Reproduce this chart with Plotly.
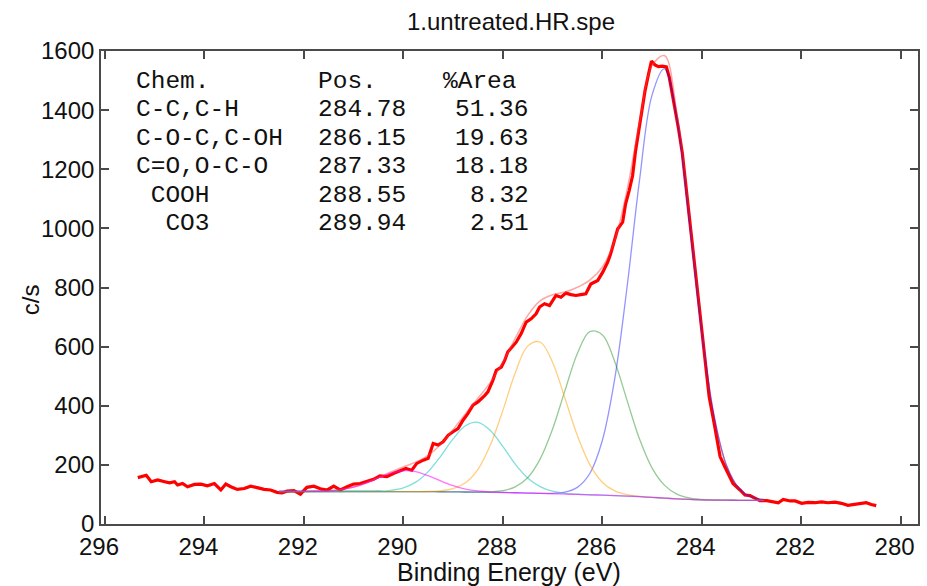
import plotly.graph_objects as go

# ---------------- data ----------------
title_text = "1.untreated.HR.spe"

# measured spectrum (binding energy eV, counts/s)
exp_energy = [295.34, 295.17, 295.07, 294.94, 294.80, 294.70, 294.60, 294.54, 294.44, 294.34,
              294.20, 294.07, 293.94, 293.80, 293.67, 293.57, 293.47, 293.34, 293.20, 293.07,
              292.94, 292.80, 292.67, 292.54, 292.44, 292.34, 292.20, 292.07, 291.94, 291.80,
              291.67, 291.53, 291.40, 291.27, 291.13, 291.00, 290.87, 290.73, 290.60, 290.47,
              290.33, 290.20, 290.10, 289.95, 289.83, 289.73, 289.60, 289.50, 289.40, 289.30,
              289.20, 289.10, 289.00, 288.90, 288.80, 288.70, 288.60, 288.50, 288.36, 288.30,
              288.20, 288.13, 288.03, 287.96, 287.90, 287.80, 287.73, 287.63, 287.53, 287.43,
              287.33, 287.26, 287.16, 287.06, 286.93, 286.83, 286.73, 286.63, 286.53, 286.43,
              286.33, 286.23, 286.09, 285.99, 285.89, 285.83, 285.76, 285.69, 285.59, 285.53,
              285.46, 285.39, 285.33, 285.26, 285.19, 285.14, 285.07, 285.01, 284.94, 284.87,
              284.79, 284.71, 284.65, 284.56, 284.47, 284.39, 284.33, 284.26, 284.19, 284.13,
              284.09, 284.03, 283.96, 283.89, 283.85, 283.76, 283.69, 283.63, 283.53, 283.49,
              283.43, 283.37, 283.23, 283.13, 283.03, 282.92, 282.83, 282.69, 282.56, 282.46,
              282.36, 282.22, 282.12, 281.99, 281.86, 281.72, 281.59, 281.46, 281.32, 281.19,
              281.06, 280.92, 280.79, 280.69, 280.59, 280.49]
exp_counts = [157, 165, 143, 149, 143, 139, 143, 132, 137, 126,
              134, 135, 129, 137, 115, 135, 126, 117, 120, 128,
              123, 117, 115, 107, 105, 111, 113, 101, 124, 128,
              119, 115, 128, 115, 126, 135, 137, 143, 151, 163,
              160, 171, 177, 188, 182, 205, 216, 222, 272, 267,
              278, 300, 312, 323, 351, 374, 402, 413, 435, 447,
              486, 520, 531, 554, 582, 604, 615, 644, 683, 694,
              711, 734, 745, 739, 773, 767, 781, 776, 773, 776,
              779, 812, 824, 852, 886, 914, 953, 998, 1021, 1083,
              1127, 1178, 1262, 1341, 1409, 1465, 1521, 1566, 1553, 1547,
              1549, 1546, 1510, 1431, 1341, 1255, 1161, 1050, 960, 870,
              800, 690, 580, 490, 430, 350, 290, 228, 192, 177,
              160, 137, 115, 98, 96, 87, 79, 79, 75, 72,
              83, 78, 78, 70, 73, 72, 75, 72, 74, 70,
              63, 66, 70, 72, 66, 62]

# fitted curves, read on a common energy grid
fit_energy = [292.5, 292.25, 292.0, 291.75, 291.5, 291.25, 291.0, 290.75, 290.5, 290.25,
              290.0, 289.75, 289.5, 289.25, 289.0, 288.75, 288.5, 288.25, 288.0, 287.75,
              287.5, 287.25, 287.0, 286.75, 286.5, 286.25, 286.0, 285.75, 285.5, 285.25,
              285.0, 284.75, 284.5, 284.25, 284.0, 283.75, 283.5, 283.25, 283.0, 282.75]
background = [110, 110, 110, 110, 110, 110, 110, 110, 109.9, 109.8,
              109.6, 109.5, 109.3, 109.1, 108.8, 108.3, 107.8, 107.2, 106.5, 105.7,
              104.7, 103.6, 102.4, 101.2, 100, 98.8, 97.5, 96, 94.5, 92.3,
              90, 87.5, 85, 83, 81.5, 80.8, 80.5, 80.2, 80, 80]
# component heights above background
cc_peak = [0, 0, 0, 0, 0, 0, 0, 0, 0, 0,
           0, 0, 0, 0, 0, 0, 0, 0, 0, 0,
           0, 0, 1.5, 6.7, 24, 72, 184, 394, 708, 1071,
           1360, 1453, 1289, 944, 570, 284, 117, 40, 11, 3]
coc_peak = [0, 0, 0, 0, 0, 0, 0, 0, 0, 0,
            0, 0, 0, 0, 0, 0, 0.4, 1.8, 6.5, 20,
            52, 116, 218, 350, 477, 552, 543, 454, 323, 195,
            100, 44, 16, 5, 1.4, 0.3, 0, 0, 0, 0]
co_peak = [0, 0, 0, 0, 0, 0, 0, 0, 0, 0,
           0, 0.15, 0.7, 3.1, 10.7, 31, 77, 160, 277, 405,
           497, 512, 445, 324, 199, 102, 44, 16, 5, 1.3,
           0.3, 0, 0, 0, 0, 0, 0, 0, 0, 0]
cooh_peak = [0, 0, 0, 0, 0, 0, 0.06, 0.3, 1.2, 4.3,
             12.8, 32, 68, 120, 179, 224, 236, 209, 156, 97,
             51, 23, 8.4, 2.6, 0.7, 0.15, 0, 0, 0, 0,
             0, 0, 0, 0, 0, 0, 0, 0, 0, 0]
co3_peak = [0, 0.04, 0.2, 0.75, 2.4, 6.6, 14.9, 28.5, 45.9, 62,
            70.6, 67.5, 54, 36.6, 20.8, 9.9, 4, 1.3, 0.4, 0.09,
            0, 0, 0, 0, 0, 0, 0, 0, 0, 0,
            0, 0, 0, 0, 0, 0, 0, 0, 0, 0]

chem_labels = ["C-C,C-H", "C-O-C,C-OH", "C=O,O-C-O", "\u00a0COOH", "\u00a0\u00a0CO3"]
peak_positions = [284.78, 286.15, 287.33, 288.55, 289.94]
peak_areas = [51.36, 19.63, 18.18, 8.32, 2.51]

# ---------------- figure ----------------
components = [cc_peak, coc_peak, co_peak, cooh_peak, co3_peak]
comp_colors = ["rgba(0,0,255,0.42)", "rgba(0,128,0,0.42)", "rgba(255,160,0,0.5)",
               "rgba(0,190,190,0.5)", "rgba(255,0,255,0.55)"]

envelope = [b + sum(c[i] for c in components) for i, b in enumerate(background)]

fig = go.Figure()
fig.add_trace(go.Scatter(x=exp_energy, y=exp_counts, mode="lines",
                         line=dict(color="#ff0000", width=3.2), showlegend=False))
fig.add_trace(go.Scatter(x=fit_energy, y=envelope, mode="lines",
                         line=dict(color="rgba(255,60,60,0.45)", width=1.5, shape="spline"),
                         showlegend=False))
for comp, col in zip(components, comp_colors):
    fig.add_trace(go.Scatter(x=fit_energy, y=[b + v for b, v in zip(background, comp)],
                             mode="lines", line=dict(color=col, width=1.3, shape="spline"),
                             showlegend=False))

W, H = 927, 586
L, R, T, B = 101, 7, 51, 62
pw, ph = W - L - R, H - T - B

def px(x):
    return (x - L) / pw

def py(y):
    return (H - B - y) / ph

sans = "Liberation Sans, Arial, sans-serif"
mono = "Liberation Mono, Courier New, monospace"
ann = []
rows_y = [81.5, 110, 138, 166.5, 195, 223.5]
tfs = 24.5
ann.append(dict(x=px(134), y=py(rows_y[0]), text="Chem.", xanchor="left", yanchor="middle"))
ann.append(dict(x=px(317), y=py(rows_y[0]), text="Pos.", xanchor="left", yanchor="middle"))
ann.append(dict(x=px(442), y=py(rows_y[0]), text="%Area", xanchor="left", yanchor="middle"))
for i in range(len(chem_labels)):
    yy = py(rows_y[i + 1])
    ann.append(dict(x=px(134), y=yy, text=chem_labels[i], xanchor="left", yanchor="middle"))
    ann.append(dict(x=px(317), y=yy, text=f"{peak_positions[i]:.2f}", xanchor="left", yanchor="middle"))
    ann.append(dict(x=px(532), y=yy, text=f"{peak_areas[i]:.2f}", xanchor="right", yanchor="middle"))
for a in ann:
    a.update(xref="paper", yref="paper", showarrow=False,
             font=dict(family=mono, size=tfs, color="#111111"))

ann.append(dict(x=px(510), y=py(572), xref="paper", yref="paper", text="Binding Energy (eV)",
                showarrow=False, xanchor="center", yanchor="middle",
                font=dict(family=sans, size=25, color="#111111")))
ann.append(dict(x=px(30), y=py(300), xref="paper", yref="paper", text="c/s", textangle=-90,
                showarrow=False, xanchor="center", yanchor="middle",
                font=dict(family=sans, size=24, color="#111111")))

axis_common = dict(showgrid=False, zeroline=False, showline=True, linecolor="#4a4a4a",
                   linewidth=1.6, mirror="allticks", ticks="inside", ticklen=8,
                   tickwidth=1.5, tickcolor="#4a4a4a",
                   tickfont=dict(family=sans, size=24, color="#111111"))

fig.update_layout(
    width=W, height=H,
    margin=dict(l=L, r=R, t=T, b=B),
    paper_bgcolor="white", plot_bgcolor="white",
    title=dict(text=title_text, x=511 / W, xref="container", xanchor="center",
               y=1 - 22 / H, yref="container", yanchor="middle",
               font=dict(family=sans, size=24, color="#111111")),
    xaxis=dict(range=[296.08, 279.65], tick0=280, dtick=2, ticklabelshift=6, **axis_common),
    yaxis=dict(range=[0, 1600], tick0=0, dtick=200, **axis_common),
    annotations=ann,
)

fig.write_html("out.html")
